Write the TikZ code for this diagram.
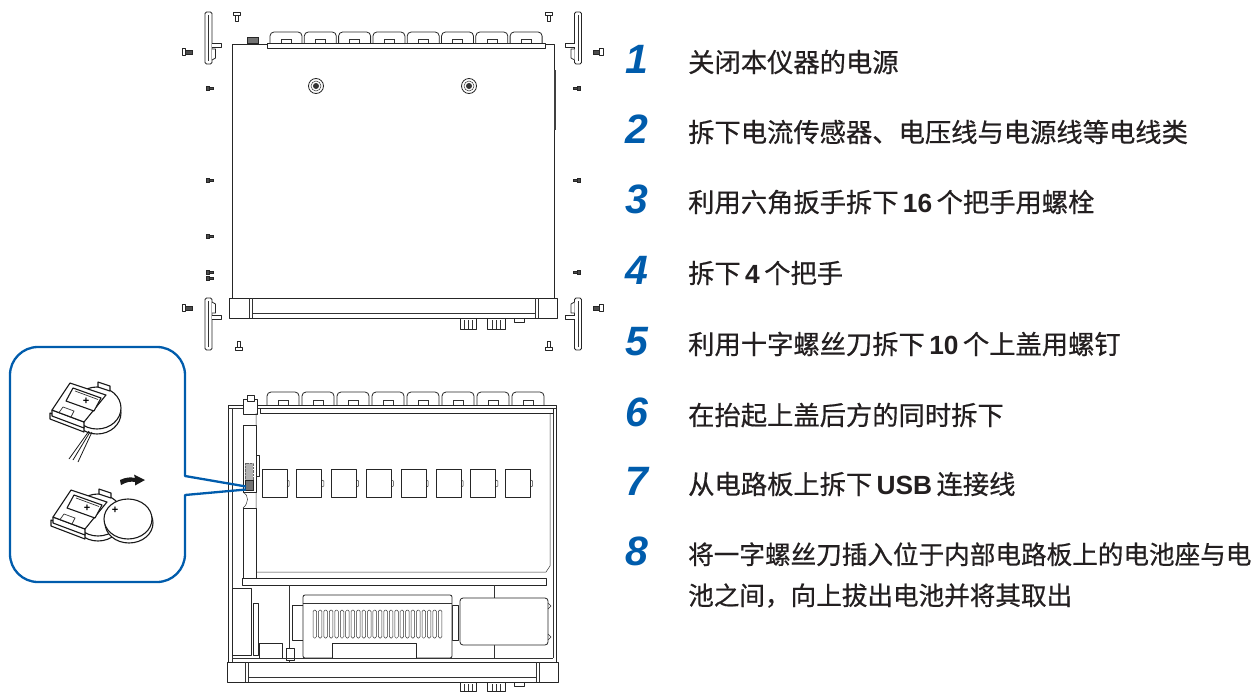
\documentclass[tikz,border=0pt]{standalone}
\usepackage{fontspec}
\newfontfamily\cjk{Noto Sans CJK SC}[FakeBold=0.6]
\newfontfamily\lsans{Liberation Sans}
\definecolor{stepblue}{RGB}{0,92,172}
\definecolor{ink}{RGB}{35,31,32}
\newcommand{\latin}[1]{{\lsans\bfseries\,#1\,}}
\begin{document}
\begin{tikzpicture}[x=1pt,y=-1pt,
  part/.style={draw=black!85,line width=0.8pt,fill=white,line join=round},
  fine/.style={draw=black!80,line width=0.5pt},
  darkpart/.style={draw=black!85,line width=0.5pt,fill=black!70},
  cell/.style={draw=black!90,line width=1.1pt,fill=white,line join=round},
  stepnum/.style={anchor=base west,inner sep=0pt,text=stepblue,
    font=\lsans\bfseries\itshape\fontsize{41}{41}\selectfont},
  steptext/.style={anchor=base west,inner sep=0pt,text=ink,align=left,
    font=\cjk\fontsize{26.3}{41}\selectfont},
  longtext/.style={steptext,font=\cjk\fontsize{25.6}{41}\selectfont},
  callout/.style={draw=stepblue,line width=2.3pt,line join=round},
  handle/.pic={
    \draw[part,rounded corners=1.5pt] (-3.5,0) rectangle (3.5,52);
    \draw[fine] (0,3) -- (0,49);
    \draw[part] (3.5,31) -- (13,31) -- (13,35) -- (3.5,35);
    \draw[part] (3.5,37) -- (7,37) -- (7,46) -- (3.5,48);
  },
  vscrew/.pic={
    \draw[part,line width=0.6pt] (-1.5,3) rectangle (1.5,9);
    \draw[part,line width=0.6pt] (-3.5,0) rectangle (3.5,3);
  },
  hscrew/.pic={
    \draw[part,line width=0.6pt] (0,-3.5) rectangle (3.5,3.5);
    \draw[darkpart] (3.5,-2) rectangle (10,2);
  },
  pin/.pic={
    \draw[darkpart] (0,-2.2) rectangle (3,2.2);
    \draw[darkpart] (3,-1.2) rectangle (7,1.2);
  },
  holder/.pic={
    % round cup of the battery holder
    \draw[cell] (27,30) ellipse [x radius=24,y radius=21];
    \draw[cell] (27,25) ellipse [x radius=24,y radius=21];
    % latch tab
    \draw[cell] (28,-1) -- (40,3) -- (40,8) -- (28,4) -- cycle;
    % lower lip
    \draw[cell] (-20,30) -- (14,43) -- (14,49) -- (-20,36) -- cycle;
    % block: front face and top face
    \draw[cell] (-18,27) -- (14,39) -- (14,45) -- (-18,33) -- cycle;
    \draw[cell] (0,0) -- (36,12) -- (14,39) -- (-18,27) -- cycle;
    \draw[fine,line width=0.7pt] (-11,29.5) -- (-7,24) -- (4,28) -- (1,34);
    % marked plate
    \draw[cell] (3,5) -- (31,15) -- (24,28) -- (-4,18) -- cycle;
    \draw[fine,line width=0.7pt] (5,8) -- (28,16.5);
    \node[inner sep=0pt,font=\lsans\bfseries\fontsize{11}{11}\selectfont] at (16,18) {+};
  },
]
\useasboundingbox (0,0) rectangle (1255,691);

% ================= closed unit, handles being removed =================
\foreach \i in {0,...,7}{
  \pgfmathsetmacro\xa{270+34.3*\i}
  \draw[part,rounded corners=4pt] (\xa,44) -- (\xa,32) -- (\xa+32,32) -- (\xa+32,44);
  \draw[fine] (\xa+11,44) -- (\xa+11,39) -- (\xa+21,39) -- (\xa+21,44);
}
\draw[part] (232,44) rectangle (554,298);
\draw[part] (267,43) rectangle (545,48);
\draw[darkpart,fill=black!55] (247,37) rectangle (258,43);
\draw[black!75,line width=1.6pt] (555,70) -- (555,130);
\foreach \x in {316,469}{
  \draw[part] (\x,86) circle (7.5);
  \draw[fine] (\x,86) circle (5);
  \fill[black!80] (\x,86) circle (3);
}
% front panel
\draw[part] (229,298) rectangle (557,318);
\draw[fine] (249,298) -- (249,318) (252,298) -- (252,318)
            (535,298) -- (535,318) (538,298) -- (538,318)
            (252,313) -- (535,313);
% front knobs
\draw[part] (460,318) rectangle (476,329);
\draw[fine] (464,320) -- (464,329) (468,320) -- (468,329) (472,320) -- (472,329);
\draw[part] (487,318) rectangle (505,329);
\draw[fine] (492,320) -- (492,329) (496,320) -- (496,329) (500,320) -- (500,329);
\draw[part] (514,318) rectangle (524,322);
% handles
\pic at (208.5,12) {handle};
\pic[xscale=-1] at (578,12) {handle};
\pic[yscale=-1] at (208.5,350) {handle};
\pic[xscale=-1,yscale=-1] at (578,350) {handle};
% handle bolts
\pic at (237,12) {vscrew};
\pic at (549,12) {vscrew};
\pic[yscale=-1] at (239,350) {vscrew};
\pic[yscale=-1] at (549,350) {vscrew};
\pic at (182,52) {hscrew};
\pic[xscale=-1] at (603,52) {hscrew};
\pic at (182,308) {hscrew};
\pic[xscale=-1] at (603,308) {hscrew};
\foreach \y in {88,180,236,272,278}{ \pic at (206,\y) {pin}; }
\foreach \y in {88,180,272}{ \pic[xscale=-1] at (580,\y) {pin}; }

% ================= open unit, top cover removed =================
\foreach \i in {0,...,7}{
  \pgfmathsetmacro\xa{267+35*\i}
  \draw[part,rounded corners=4pt] (\xa,406) -- (\xa,392) -- (\xa+32,392) -- (\xa+32,406);
  \draw[fine] (\xa+11,406) -- (\xa+11,400) -- (\xa+21,400) -- (\xa+21,406);
}
\draw[part] (228,405) rectangle (556,662);
\draw[fine] (232,408) -- (232,662) (228,408) -- (556,408) (553,413) -- (553,658);
\draw[part] (260,408) rectangle (553,413);
\draw[part] (243,399) rectangle (257,414);
\draw[part] (247,395) rectangle (254,401);
% main board
\draw[fine] (256,413) -- (256,572) -- (546,572) -- (550,566) -- (550,413);
% left module with the battery holder
\draw[part] (243,425) rectangle (256,492);
\draw[part] (256,455) rectangle (259,476);
\draw[draw=black!60,densely dotted,fill=black!30] (245,463) rectangle (253,480);
\draw[darkpart,fill=black!55] (245,480) rectangle (253,490);
\draw[fine] (243,492) .. controls (249,495) and (249,503) .. (243,508);
\draw[part] (243,508) rectangle (256,578);
% row of connectors
\foreach \i in {0,...,7}{
  \pgfmathsetmacro\xa{262+34.8*\i}
  \draw[part] (\xa,469) rectangle (\xa+25,497);
  \draw[fine] (\xa+25,480) -- (\xa+27,481) -- (\xa+27,486) -- (\xa+25,487);
}
% cross rail
\draw[part] (242,578) rectangle (546,585);
% lower section
\draw[part] (232,588) rectangle (251,655);
\draw[part] (253,603) rectangle (258,655);
\draw[part] (259,643) rectangle (282,658);
\draw[fine] (289,585) -- (289,662);
\draw[part] (286,648) rectangle (294,660);
\draw[part] (292,605) rectangle (303,640);
\draw[part] (452,605) rectangle (458,640);
\draw[part,rounded corners=2pt] (303,595) rectangle (452,658);
\draw[fine] (303,603) -- (452,603);
\foreach \k in {0,...,23}{
  \draw[fine,rounded corners=1.4pt] ({313+5.45*\k},610) rectangle ({316.5+5.45*\k},638);
}
\draw[part] (332,643) rectangle (416,658);
\draw[fine] (494,585) -- (494,598) (494,645) -- (494,658) (232,658) -- (553,658);
\draw[part,rounded corners=3pt] (460,598) rectangle (548,645);
\draw[fine] (548,603) -- (551,606) -- (548,609) (548,634) -- (551,637) -- (548,640);
% front panel
\draw[part] (227,662) rectangle (558,682);
\draw[fine] (245,662) -- (245,682) (248,662) -- (248,682)
            (536,662) -- (536,682) (539,662) -- (539,682)
            (248,677) -- (536,677);
\draw[part] (460,682) rectangle (476,691);
\draw[fine] (464,684) -- (464,691) (468,684) -- (468,691) (472,684) -- (472,691);
\draw[part] (487,682) rectangle (505,691);
\draw[fine] (492,684) -- (492,691) (496,684) -- (496,691) (500,684) -- (500,691);
\draw[part] (514,682) rectangle (524,686);

% ================= callout: removing the coin cell =================
\coordinate (cellA) at (246,486.5);
\coordinate (cellB) at (246,489.5);
\draw[callout] (cellA) -- (185,476) [rounded corners=28pt] -- (185,347) -- (10,347)
  -- (10,582) -- (185,582) [sharp corners] -- (185,495) -- (cellB);
% holder with the cell seated
\pic at (70,383) {holder};
\draw[black!90,line width=0.8pt] (89,431) -- (69,459) (90,432) -- (73,460) (92,432) -- (78,462);
% holder with the cell lifted out
\pic at (71,490) {holder};
\draw[cell] (129,523) ellipse [x radius=24,y radius=20];
\draw[cell] (128,519) ellipse [x radius=24,y radius=20];
\node[inner sep=0pt,font=\lsans\bfseries\fontsize{11}{11}\selectfont] at (115,510) {+};
\fill[black!90] (120,480) .. controls (126,477) and (131,477) .. (135,478) -- (134,474.5)
  -- (145,480) -- (135,485.5) -- (135,482) .. controls (131,481) and (126,482) .. (121,485) -- cycle;

% ================= procedure =================
\node[stepnum] (n1) at (625,73) {1};
\node[stepnum] (n2) at (625,143) {2};
\node[stepnum] (n3) at (625,213) {3};
\node[stepnum] (n4) at (625,284) {4};
\node[stepnum] (n5) at (625,355) {5};
\node[stepnum] (n6) at (625,426) {6};
\node[stepnum] (n7) at (625,495) {7};
\node[stepnum] (n8) at (625,565) {8};
\node[steptext] (t1) at (688,72) {关闭本仪器的电源};
\node[steptext] (t2) at (688,142) {拆下电流传感器、电压线与电源线等电线类};
\node[steptext] (t3) at (688,212) {利用六角扳手拆下\latin{16}个把手用螺栓};
\node[steptext] (t4) at (688,283) {拆下\latin{4}个把手};
\node[steptext] (t5) at (688,354) {利用十字螺丝刀拆下\latin{10}个上盖用螺钉};
\node[steptext] (t6) at (688,425) {在抬起上盖后方的同时拆下};
\node[steptext] (t7) at (688,494) {从电路板上拆下\latin{USB}连接线};
\node[longtext] (t8) at (688,605) {将一字螺丝刀插入位于内部电路板上的电池座与电\\池之间，向上拔出电池并将其取出};
\end{tikzpicture}
\end{document}
